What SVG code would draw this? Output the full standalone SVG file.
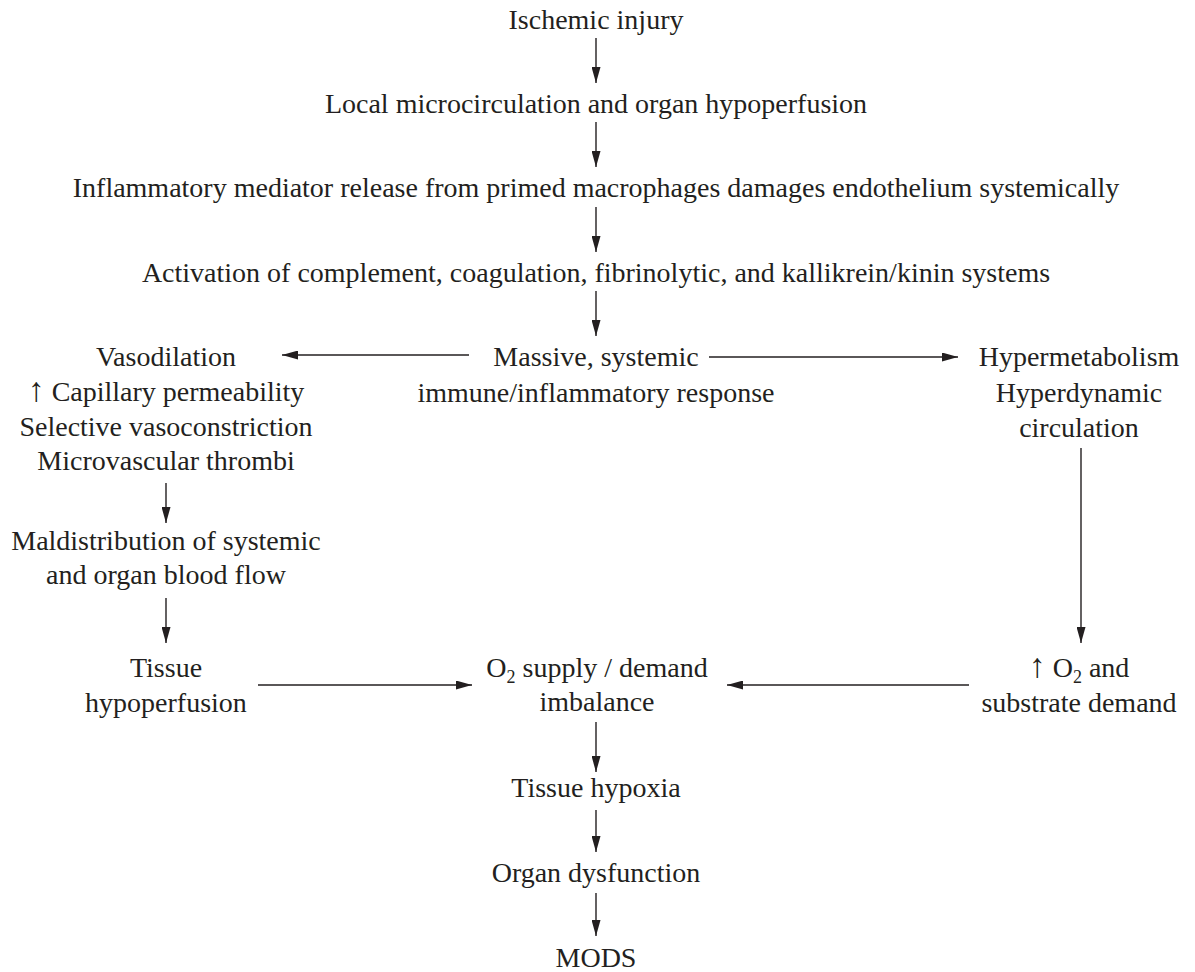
<svg xmlns="http://www.w3.org/2000/svg" width="1195" height="972" viewBox="0 0 1195 972">
<style>
  text { font-family: "Liberation Serif", "Times New Roman", serif; font-size: 28px; fill: #231f20; text-anchor: middle; }
  .sub { font-size: 18px; }
  .up { font-size: 34px; }
  .conn line { stroke: #231f20; stroke-width: 1.4; fill: none; }
</style>
<defs>
  <marker id="ah" viewBox="0 0 16 9" refX="16" refY="4.5" markerWidth="16" markerHeight="9" markerUnits="userSpaceOnUse" orient="auto">
    <path d="M0,0 L16,4.5 L0,9 Z" fill="#231f20"/>
  </marker>
</defs>
<rect width="1195" height="972" fill="#ffffff"/>

<g id="n-ischemic"><text x="596" y="29">Ischemic injury</text></g>
<g id="n-local"><text x="596" y="113">Local microcirculation and organ hypoperfusion</text></g>
<g id="n-inflammatory"><text x="596" y="197">Inflammatory mediator release from primed macrophages damages endothelium systemically</text></g>
<g id="n-activation"><text x="596" y="282">Activation of complement, coagulation, fibrinolytic, and kallikrein/kinin systems</text></g>
<g id="n-massive">
  <text x="596" y="366">Massive, systemic</text>
  <text x="596" y="402">immune/inflammatory response</text>
</g>
<g id="n-vaso">
  <text x="166" y="366">Vasodilation</text>
  <text x="166" y="401"><tspan class="up">↑</tspan> Capillary permeability</text>
  <text x="166" y="436">Selective vasoconstriction</text>
  <text x="166" y="470">Microvascular thrombi</text>
</g>
<g id="n-hyper">
  <text x="1079" y="366">Hypermetabolism</text>
  <text x="1079" y="402">Hyperdynamic</text>
  <text x="1079" y="437">circulation</text>
</g>
<g id="n-maldist">
  <text x="166" y="550">Maldistribution of systemic</text>
  <text x="166" y="584">and organ blood flow</text>
</g>
<g id="n-tissuehypo">
  <text x="166" y="677">Tissue</text>
  <text x="166" y="712">hypoperfusion</text>
</g>
<g id="n-o2">
  <text x="597" y="677">O<tspan class="sub" dy="6">2</tspan><tspan dy="-6"> supply / demand</tspan></text>
  <text x="597" y="711">imbalance</text>
</g>
<g id="n-demand">
  <text x="1079" y="677"><tspan class="up">↑</tspan> O<tspan class="sub" dy="6">2</tspan><tspan dy="-6"> and</tspan></text>
  <text x="1079" y="712">substrate demand</text>
</g>
<g id="n-hypoxia"><text x="596" y="797">Tissue hypoxia</text></g>
<g id="n-organ"><text x="596" y="882">Organ dysfunction</text></g>
<g id="n-mods"><text x="596" y="967">MODS</text></g>

<g class="conn" id="connectors">
  <line x1="596" y1="38" x2="596" y2="83" marker-end="url(#ah)"/>
  <line x1="596" y1="122" x2="596" y2="167" marker-end="url(#ah)"/>
  <line x1="596" y1="207" x2="596" y2="252" marker-end="url(#ah)"/>
  <line x1="596" y1="291" x2="596" y2="336" marker-end="url(#ah)"/>
  <line x1="469" y1="355" x2="282" y2="355" marker-end="url(#ah)"/>
  <line x1="709" y1="357" x2="958" y2="357" marker-end="url(#ah)"/>
  <line x1="166" y1="483" x2="166" y2="523" marker-end="url(#ah)"/>
  <line x1="166" y1="598" x2="166" y2="643" marker-end="url(#ah)"/>
  <line x1="1081" y1="448" x2="1081" y2="643" marker-end="url(#ah)"/>
  <line x1="258" y1="685" x2="472" y2="685" marker-end="url(#ah)"/>
  <line x1="969" y1="685" x2="727" y2="685" marker-end="url(#ah)"/>
  <line x1="596" y1="722" x2="596" y2="772" marker-end="url(#ah)"/>
  <line x1="596" y1="810" x2="596" y2="852" marker-end="url(#ah)"/>
  <line x1="596" y1="893" x2="596" y2="936" marker-end="url(#ah)"/>
</g>
</svg>
